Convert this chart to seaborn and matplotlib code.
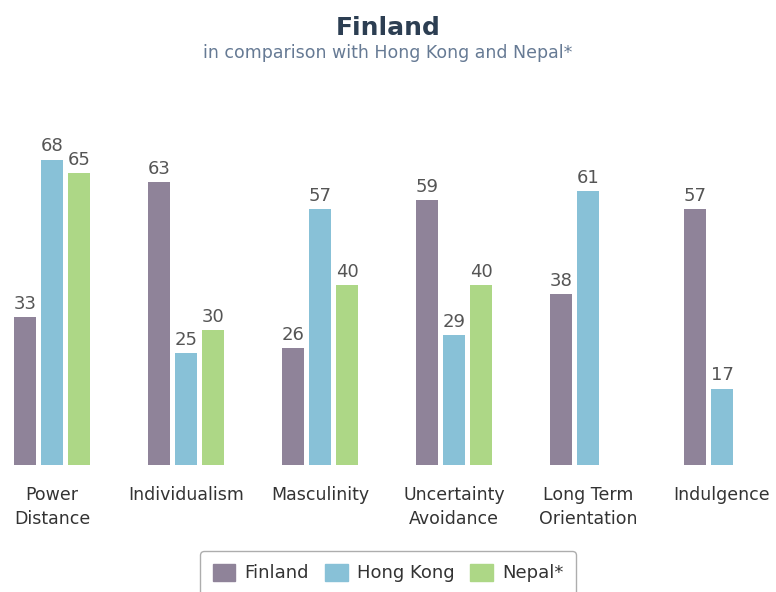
import numpy as np
import pandas as pd
import matplotlib
matplotlib.use("Agg")
import matplotlib.pyplot as plt
import seaborn as sns
from matplotlib.patches import Patch

categories = ["Power\nDistance", "Individualism", "Masculinity",
              "Uncertainty\nAvoidance", "Long Term\nOrientation", "Indulgence"]
finland = [33, 63, 26, 59, 38, 57]
hong_kong = [68, 25, 57, 29, 61, 17]
nepal = [65, 30, 40, 40, np.nan, np.nan]
series = ["Finland", "Hong Kong", "Nepal*"]
colors = ["#8f8399", "#88c1d7", "#add786"]

rows = []
for name, vals in zip(series, [finland, hong_kong, nepal]):
    for c, v in zip(categories, vals):
        rows.append({"dimension": c, "country": name, "score": v})
df = pd.DataFrame(rows)

sns.set_theme(style="white")
plt.rcParams['font.family'] = ['DejaVu Sans']

fig = plt.figure(figsize=(7.76, 5.92), dpi=100)
ax = fig.add_axes([0, (592 - 465) / 592, 1, 0.531])

sns.barplot(data=df, x="dimension", y="score", hue="country",
            order=categories, hue_order=series, palette=colors,
            width=0.604, gap=0.185, saturation=1, linewidth=0,
            ax=ax, legend=False)

ax.set_xlim(-0.388, 5.403)
ax.set_ylim(0, 70)
for cont in ax.containers:
    labels = ["" if np.isnan(v) else f"{int(v)}" for v in cont.datavalues]
    ax.bar_label(cont, labels=labels, padding=3, fontsize=13, color="#555555")

for s in ax.spines.values():
    s.set_visible(False)
ax.set_yticks([])
ax.set_xlabel("")
ax.set_ylabel("")
ax.tick_params(axis="x", length=0, pad=15, labelsize=12.5, labelcolor="#333333")
for t in ax.get_xticklabels():
    t.set_linespacing(1.45)

fig.text(0.5, 1 - 28 / 592, "Finland", ha="center", va="center",
         fontsize=18, fontweight="bold", color="#2c3e52")
fig.text(0.5, 1 - 53 / 592, "in comparison with Hong Kong and Nepal*", ha="center",
         va="center", fontsize=12.5, color="#667a94")

handles = [Patch(facecolor=c, edgecolor=c) for c in colors]
leg = fig.legend(handles, series, loc="center", bbox_to_anchor=(388 / 776, 1 - 573 / 592),
                 ncol=3, frameon=True, fancybox=True, edgecolor="#999999",
                 fontsize=13, handlelength=1.25, handleheight=1.1, columnspacing=0.9,
                 handletextpad=0.5, borderpad=0.7)
leg.get_frame().set_linewidth(1)
for t in leg.get_texts():
    t.set_color("#333333")

fig.savefig("out.png", dpi=100)
